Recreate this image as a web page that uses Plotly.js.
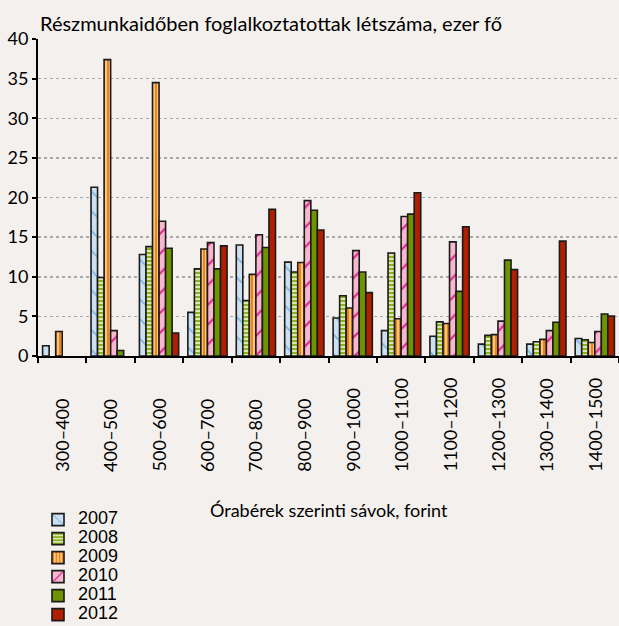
<!DOCTYPE html>
<html>
<head>
<meta charset="utf-8">
<script src="https://cdn.plot.ly/plotly-3.0.1.min.js"></script>
<style>html,body{margin:0;padding:0;background:#f3f0ed;}</style>
</head>
<body>
<div id="chart" style="width:619px;height:626px;"></div>
<script>
const categories = ['300–400','400–500','500–600','600–700','700–800','800–900','900–1000','1000–1100','1100–1200','1200–1300','1300–1400','1400–1500'];
const years = ['2007','2008','2009','2010','2011','2012'];
const v2007 = [1.3, 21.3, 12.8, 5.5, 14.0, 11.85, 4.8, 3.2, 2.5, 1.5, 1.5, 2.2];
const v2008 = [null, 9.9, 13.8, 11.0, 7.0, 10.6, 7.6, 13.0, 4.3, 2.6, 1.8, 2.05];
const v2009 = [3.1, 37.4, 34.5, 13.5, 10.3, 11.8, 6.05, 4.7, 4.1, 2.7, 2.1, 1.7];
const v2010 = [null, 3.2, 17.0, 14.3, 15.3, 19.6, 13.3, 17.6, 14.4, 4.4, 3.2, 3.1];
const v2011 = [null, 0.7, 13.6, 11.0, 13.7, 18.4, 10.6, 17.9, 8.15, 12.1, 4.25, 5.3];
const v2012 = [null, null, 2.9, 13.9, 18.5, 15.9, 8.0, 20.6, 16.3, 10.9, 14.5, 5.05];
const yTitle = 'Részmunkaidőben foglalkoztatottak létszáma, ezer fő';
const xTitle = 'Órabérek szerinti sávok, forint';

const series = [v2007, v2008, v2009, v2010, v2011, v2012];
const patterns = [
  {shape: '\\', bgcolor: '#cde0f1', fgcolor: '#7fb2de', size: 14, solidity: 0.12},
  {shape: '-', bgcolor: '#e6edc3', fgcolor: '#8cb11f', size: 4, solidity: 0.55},
  {shape: '|', bgcolor: '#fbd9a8', fgcolor: '#f5820f', size: 4, solidity: 0.6},
  {shape: '/', bgcolor: '#f6b7cf', fgcolor: '#e0268a', size: 14, solidity: 0.15},
  null,
  null
];
const solid = ['#cde0f1','#8cb11f','#f5820f','#f6b7cf','#6e9400','#b21e00'];

const traces = series.map((vals, k) => {
  const m = {color: solid[k], line: {color: '#1a1a1a', width: 1.6}};
  if (patterns[k]) m.pattern = Object.assign({fillmode: 'replace'}, patterns[k]);
  return {
    type: 'bar',
    x: categories,
    y: vals,
    name: '<span style="font-size:18px">' + years[k] + '</span>',
    marker: m,
    hoverinfo: 'skip'
  };
});

const annotations = categories.map((c, i) => ({
  x: i, xref: 'x', y: -0.372, yref: 'paper',
  text: c, textangle: -90, showarrow: false,
  xanchor: 'center', yanchor: 'bottom',
  font: {family: 'Lato, sans-serif', size: 18, color: '#000'}
}));
annotations.push({
  x: 0.5, xref: 'paper', y: -0.485, yref: 'paper',
  text: xTitle, showarrow: false, xanchor: 'center', yanchor: 'middle',
  font: {family: 'Lato, sans-serif', size: 18, color: '#000'}
});

const layout = {
  width: 619, height: 626,
  margin: {l: 38, r: 0, t: 39, b: 270, autoexpand: false},
  paper_bgcolor: '#f3f0ed',
  plot_bgcolor: '#f3f0ed',
  title: {text: yTitle, x: 40/619, xanchor: 'left', xref: 'container',
          y: 1 - 24/626, yanchor: 'middle', yref: 'container',
          font: {family: 'Lato, sans-serif', size: 20, color: '#000'}},
  barmode: 'group',
  bargap: 0.19,
  bargroupgap: 0,
  showlegend: true,
  legend: {x: 0, xanchor: 'left', y: -0.4705, yanchor: 'top',
           font: {family: 'Liberation Sans, Arial, sans-serif', size: 12, color: '#000'},
           bgcolor: 'rgba(0,0,0,0)', tracegroupgap: 0, traceorder: 'normal'},
  xaxis: {type: 'category', showticklabels: false, ticks: 'outside', tickson: 'boundaries',
          ticklen: 5, tickwidth: 2, tickcolor: '#000',
          showline: true, linecolor: '#000', linewidth: 2, showgrid: false, zeroline: false,
          fixedrange: true},
  yaxis: {range: [0, 40], dtick: 5, ticks: 'outside', ticklen: 4, tickwidth: 2, tickcolor: '#000',
          showline: true, linecolor: '#000', linewidth: 2,
          showgrid: true, gridcolor: '#a8a8a8', gridwidth: 1.5, griddash: 'dot', zeroline: false,
          tickfont: {family: 'Lato, sans-serif', size: 18, color: '#000'}, fixedrange: true},
  annotations: annotations
};

Plotly.newPlot('chart', traces, layout, {displayModeBar: false, staticPlot: true});
</script>
</body>
</html>
